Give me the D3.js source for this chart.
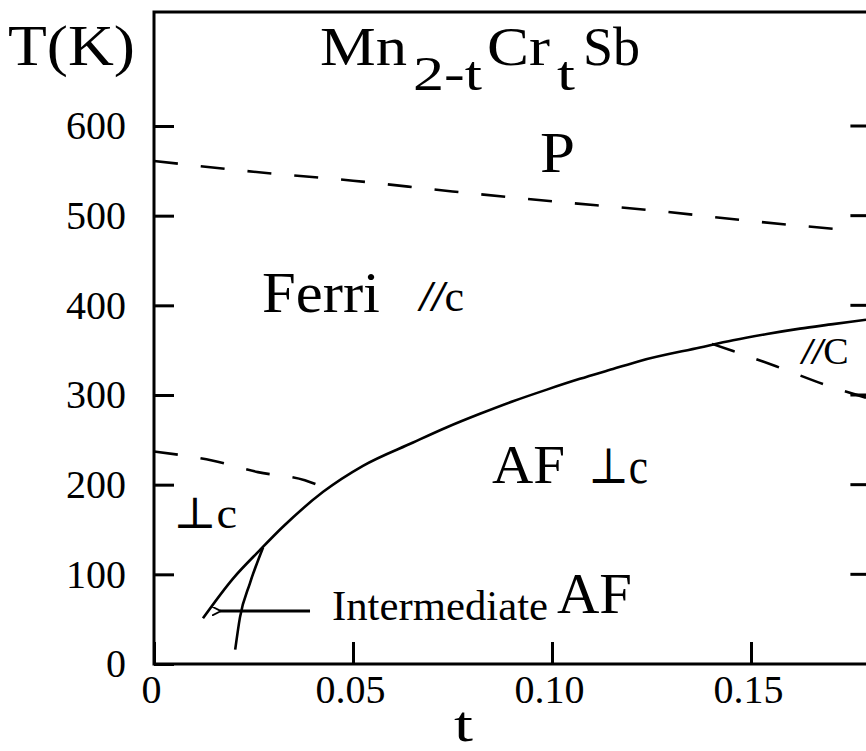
<!DOCTYPE html>
<html>
<head>
<meta charset="utf-8">
<script src="https://cdn.jsdelivr.net/npm/d3@7"></script>
<style>
  body { margin: 0; background: #fff; }
  svg text { font-family: "Liberation Serif", "Times New Roman", Tinos, Times, "Nimbus Roman", "DejaVu Serif", serif; fill: #000; }
</style>
</head>
<body>
<script>
var w = 866;
var h = 751;

// axis ticks
var xTicks = [0, 0.05, 0.10, 0.15];
var yTicks = [0, 100, 200, 300, 400, 500, 600];
var rightTicks = [100, 200, 300, 400, 500, 600];

// P / Ferri boundary (dashed)
var paraT = [0, 0.025, 0.05, 0.075, 0.10, 0.125, 0.15, 0.174];
var paraK = [561, 549, 539, 527, 516, 506, 494, 484];

// Ferri / AF boundary (solid)
var ferriT = [0.0123, 0.0198, 0.0266, 0.0324, 0.0425, 0.0525, 0.0651, 0.0736, 0.0819, 0.0902,
              0.0987, 0.107, 0.1153, 0.1221, 0.1372, 0.1455, 0.154, 0.1623, 0.1706, 0.1789];
var ferriK = [51, 95, 127, 153, 192, 221, 247, 264, 279, 293,
              306, 318, 329, 338, 353, 361, 368, 374, 379, 384];

// intermediate AF branch (solid)
var interT = [0.0204, 0.0216, 0.0241, 0.0274];
var interK = [16, 52, 90, 130];

// spin direction boundaries (dashed)
var leftSpinT = [0, 0.0146, 0.0261, 0.0379, 0.0422];
var leftSpinK = [237, 227, 214, 205, 198];
var rightSpinT = [0.1402, 0.1455, 0.1563, 0.1683, 0.1789];
var rightSpinK = [357, 349, 332, 312, 297];

// arrow pointing at the intermediate phase
var arrowT = [0.0392, 0.0166];
var arrowK = [59, 59];

var svg = d3.select("body").append("svg")
            .attr("width", w)
            .attr("height", h);

var x = d3.scaleLinear().domain([0, 0.18]).range([154, 154 + 0.18 * 3980]);
var y = d3.scaleLinear().domain([0, 600]).range([664, 126]);
var topK = 727;

svg.append("defs").append("marker")
   .attr("id", "head")
   .attr("viewBox", "0 0 10 10")
   .attr("refX", 1)
   .attr("refY", 5)
   .attr("markerWidth", 9)
   .attr("markerHeight", 9)
   .attr("markerUnits", "userSpaceOnUse")
   .attr("orient", "auto")
   .append("path")
   .attr("d", "M10,0 L0,5 L10,10")
   .attr("fill", "none")
   .attr("stroke", "#000")
   .attr("stroke-width", 2);

// frame
svg.append("path")
   .attr("d", "M" + x(0.18) + "," + y(topK) + "H" + x(0) + "V" + y(0) + "H" + x(0.18))
   .attr("stroke", "#000")
   .attr("stroke-width", 3)
   .attr("fill", "none");

// left axis
var yAxis = svg.append("g")
   .attr("transform", "translate(" + x(0) + ",0)")
   .call(d3.axisLeft(y).tickValues(yTicks).tickSize(-20).tickPadding(28).tickFormat(d3.format("d")));

// bottom axis
var xAxis = svg.append("g")
   .attr("transform", "translate(0," + y(0) + ")")
   .call(d3.axisBottom(x).tickValues(xTicks).tickSize(-22).tickPadding(11)
         .tickFormat(function(d){ return d === 0 ? "0" : d3.format(".2f")(d); }));

[yAxis, xAxis].forEach(function(a){
    a.attr("font-family", null);
    a.select(".domain").remove();
    a.selectAll(".tick line").attr("stroke", "#000").attr("stroke-width", 3);
    a.selectAll(".tick text")
     .attr("font-size", "40px")
     .attr("fill", "#000");
});
xAxis.selectAll(".tick text").attr("dx", "-3");

// right side ticks, pointing inwards
svg.selectAll(".rtick")
   .data(rightTicks)
   .enter()
   .append("line")
   .attr("class", "rtick")
   .attr("x1", x(0.18) - 20)
   .attr("x2", x(0.18))
   .attr("y1", function(d){ return y(d); })
   .attr("y2", function(d){ return y(d); })
   .attr("stroke", "#000")
   .attr("stroke-width", 3);

var line = d3.line()
   .x(function(d){ return x(d[0]); })
   .y(function(d){ return y(d[1]); })
   .curve(d3.curveMonotoneX);

function drawCurve(ts, ks, dashed) {
    svg.append("path")
       .datum(d3.zip(ts, ks))
       .attr("d", line)
       .attr("fill", "none")
       .attr("stroke", "#000")
       .attr("stroke-width", 2.6)
       .attr("stroke-dasharray", dashed ? "24,23" : null);
}

drawCurve(paraT, paraK, true);
drawCurve(ferriT, ferriK, false);
drawCurve(interT, interK, false);
drawCurve(leftSpinT, leftSpinK, true);
drawCurve(rightSpinT, rightSpinK, true);

svg.append("path")
   .datum(d3.zip(arrowT, arrowK))
   .attr("d", d3.line().x(function(d){ return x(d[0]); }).y(function(d){ return y(d[1]); }))
   .attr("fill", "none")
   .attr("stroke", "#000")
   .attr("stroke-width", 3)
   .attr("marker-end", "url(#head)");

//Adding Labels
function label(txt, px, py, size, len) {
    var t = svg.append("text")
       .attr("x", px)
       .attr("y", py)
       .attr("font-size", size + "px")
       .text(txt);
    if (len) t.attr("textLength", len).attr("lengthAdjust", "spacingAndGlyphs");
    return t;
}

label("T(K)", 8, 65, 56, 127);

// title Mn(2-t)Cr(t)Sb
label("Mn", 320, 65, 55, 87);
label("2-t", 413, 90, 48, 69);
label("Cr", 487, 65, 55, 63);
label("t", 557, 90, 48, 18);
label("Sb", 583, 65, 55, 57);

label("P", 540, 172, 57, 35);
label("Ferri", 262, 312, 57, 118);

var fc = svg.append("text").attr("x", 420).attr("y", 311).attr("font-size", "44px");
fc.append("tspan").attr("font-weight", "bold").attr("font-style", "italic").text("//");
fc.append("tspan").text("c");

var rc = svg.append("text").attr("x", 802).attr("y", 364).attr("font-size", "38px");
rc.append("tspan").attr("font-weight", "bold").attr("font-style", "italic").text("//");
rc.append("tspan").text("C");

label("AF", 492, 483, 54, 73);
label("\u22A5c", 588, 483, 50, 60);
label("\u22A5c", 173, 528, 44, 64);

label("Intermediate", 332, 620, 42, 216);
label("AF", 557, 613, 56, 75);

label("t", 454, 741, 50, 19);
</script>
</body>
</html>
